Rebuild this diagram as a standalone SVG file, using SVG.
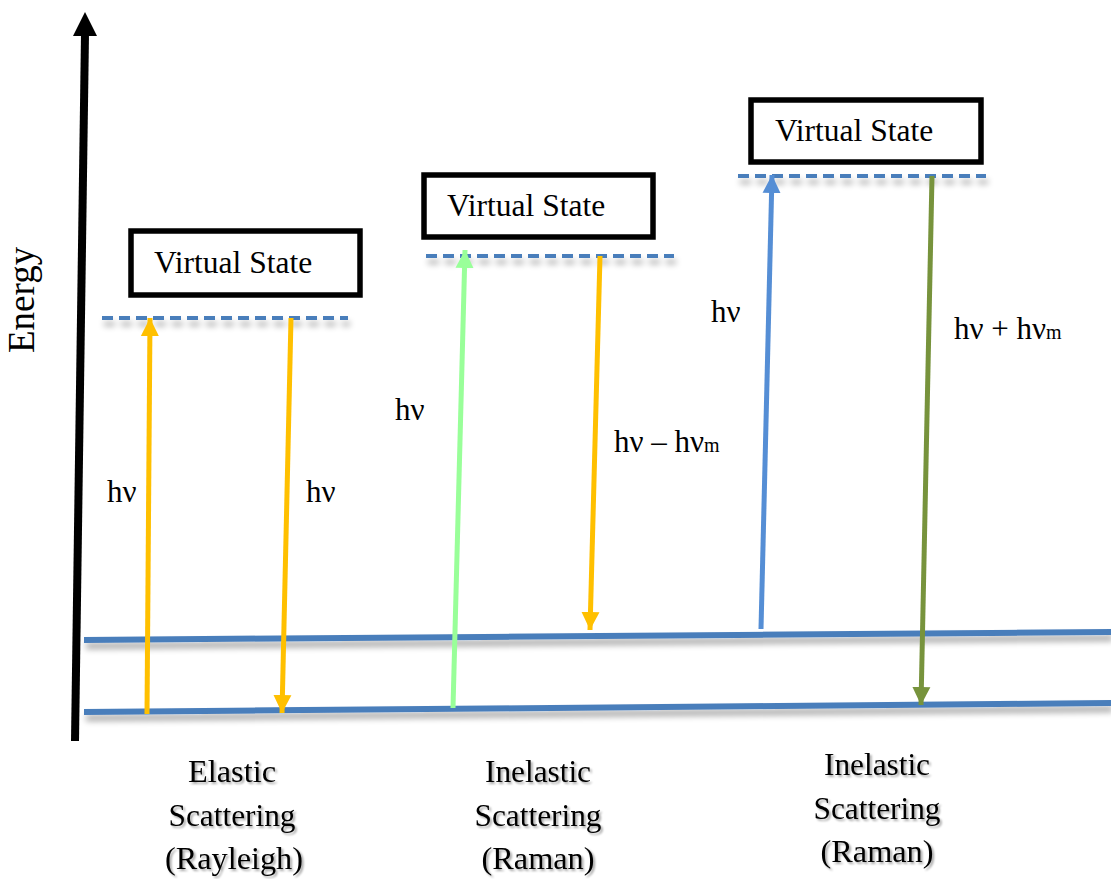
<svg xmlns="http://www.w3.org/2000/svg" width="1111" height="879" viewBox="0 0 1111 879">
<style>
.t{font-family:"Liberation Serif","Times New Roman",serif;fill:#000}
.vs{font-size:31.5px}
.lb{font-size:31px}
.sub{font-size:20px}
.bt{font-size:31px;text-anchor:middle}
.box{fill:#fff;stroke:#000;stroke-width:5.5}
.lvl{stroke:#4a7ebb;stroke-width:6;fill:none}
.dash{stroke:#4a7ebb;stroke-width:4;stroke-dasharray:11,6;fill:none}
</style>
<defs>
<filter id="sh" x="-5%" y="-100%" width="110%" height="400%">
<feGaussianBlur in="SourceAlpha" stdDeviation="3"/>
<feOffset dx="2" dy="6" result="b"/>
<feComponentTransfer><feFuncA type="linear" slope="0.35"/></feComponentTransfer>
<feMerge><feMergeNode/><feMergeNode in="SourceGraphic"/></feMerge>
</filter>
<filter id="tsh" x="-10%" y="-20%" width="120%" height="150%">
<feGaussianBlur in="SourceAlpha" stdDeviation="1.2"/>
<feOffset dx="1.5" dy="2"/>
<feComponentTransfer><feFuncA type="linear" slope="0.35"/></feComponentTransfer>
<feMerge><feMergeNode/><feMergeNode in="SourceGraphic"/></feMerge>
</filter>
<marker id="ay" markerUnits="userSpaceOnUse" markerWidth="18" markerHeight="22" viewBox="0 0 18 22" refX="18" refY="11" orient="auto"><path d="M0,2 L18,11 L0,20 Z" fill="#ffc000"/></marker>
<marker id="ag" markerUnits="userSpaceOnUse" markerWidth="18" markerHeight="22" viewBox="0 0 18 22" refX="18" refY="11" orient="auto"><path d="M0,2 L18,11 L0,20 Z" fill="#99ff99"/></marker>
<marker id="ab" markerUnits="userSpaceOnUse" markerWidth="18" markerHeight="22" viewBox="0 0 18 22" refX="18" refY="11" orient="auto"><path d="M0,2 L18,11 L0,20 Z" fill="#558ed5"/></marker>
<marker id="ao" markerUnits="userSpaceOnUse" markerWidth="18" markerHeight="22" viewBox="0 0 18 22" refX="18" refY="11" orient="auto"><path d="M0,2 L18,11 L0,20 Z" fill="#77933c"/></marker>
</defs>
<rect width="1111" height="879" fill="#fff"/>

<g id="axis">
<line x1="75" y1="741" x2="85" y2="34" stroke="#000" stroke-width="8"/>
<path d="M73,36 L85,12 L97,36 Z" fill="#000"/>
<text class="t" font-size="37" transform="translate(34,353) rotate(-90)">Energy</text>
</g>

<g id="levels" filter="url(#sh)">
<line class="lvl" x1="84" y1="640" x2="1111" y2="632"/>
<line class="lvl" x1="84" y1="712" x2="1111" y2="703"/>
</g>

<g id="virtual-levels" filter="url(#sh)">
<line class="dash" x1="102" y1="318" x2="348" y2="318"/>
<line class="dash" x1="426" y1="256" x2="674" y2="256"/>
<line class="dash" x1="738" y1="176" x2="986" y2="176"/>
</g>

<g id="vs1"><rect class="box" x="131" y="231" width="229" height="64"/><text class="t vs" x="154" y="273">Virtual State</text></g>
<g id="vs2"><rect class="box" x="424" y="175" width="229" height="62"/><text class="t vs" x="447" y="216">Virtual State</text></g>
<g id="vs3"><rect class="box" x="751" y="100" width="230" height="62"/><text class="t vs" x="775" y="141">Virtual State</text></g>

<g id="connectors" fill="none" stroke-width="5">
<line x1="147" y1="714" x2="150" y2="318" stroke="#ffc000" marker-end="url(#ay)"/>
<line x1="291" y1="318" x2="282" y2="713" stroke="#ffc000" marker-end="url(#ay)"/>
<line x1="453" y1="708" x2="465" y2="250" stroke="#99ff99" marker-end="url(#ag)"/>
<line x1="600" y1="256" x2="590" y2="630" stroke="#ffc000" marker-end="url(#ay)"/>
<line x1="761" y1="629" x2="772" y2="175" stroke="#558ed5" marker-end="url(#ab)"/>
<line x1="932" y1="176" x2="921" y2="705" stroke="#77933c" marker-end="url(#ao)"/>
</g>

<g id="labels">
<text class="t lb" x="107" y="502">hν</text>
<text class="t lb" x="306" y="502">hν</text>
<text class="t lb" x="395" y="420">hν</text>
<text class="t lb" x="614" y="452">hν – hν<tspan class="sub">m</tspan></text>
<text class="t lb" x="711" y="322">hν</text>
<text class="t lb" x="954" y="339">hν + hν<tspan class="sub">m</tspan></text>
</g>

<g id="captions" filter="url(#tsh)">
<text class="t bt" x="232" y="782" textLength="88" lengthAdjust="spacingAndGlyphs">Elastic</text>
<text class="t bt" x="232" y="826" textLength="127" lengthAdjust="spacingAndGlyphs">Scattering</text>
<text class="t bt" x="234" y="869" textLength="138" lengthAdjust="spacingAndGlyphs">(Rayleigh)</text>
<text class="t bt" x="538" y="782" textLength="106" lengthAdjust="spacingAndGlyphs">Inelastic</text>
<text class="t bt" x="538" y="826" textLength="127" lengthAdjust="spacingAndGlyphs">Scattering</text>
<text class="t bt" x="538" y="869" textLength="113" lengthAdjust="spacingAndGlyphs">(Raman)</text>
<text class="t bt" x="877" y="775" textLength="106" lengthAdjust="spacingAndGlyphs">Inelastic</text>
<text class="t bt" x="877" y="819" textLength="127" lengthAdjust="spacingAndGlyphs">Scattering</text>
<text class="t bt" x="877" y="862" textLength="113" lengthAdjust="spacingAndGlyphs">(Raman)</text>
</g>
</svg>
